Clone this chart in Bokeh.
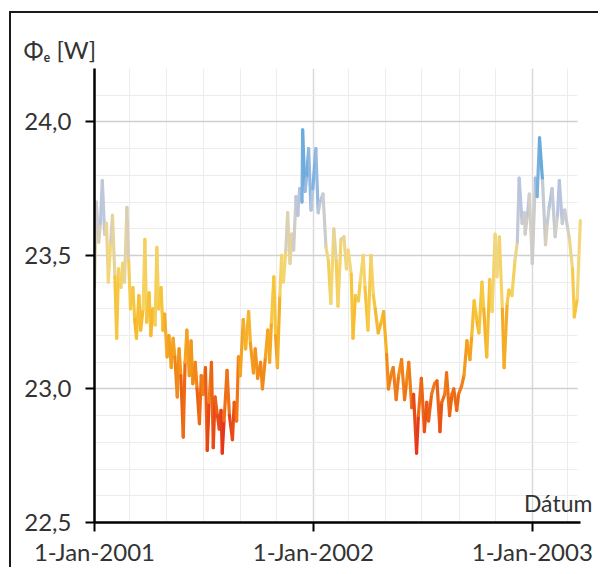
import numpy as np
import pandas as pd
from bokeh.plotting import figure
from bokeh.models import (FixedTicker, CustomJSTickFormatter, ColumnDataSource,
                          LinearColorMapper, Label, Range1d)
from bokeh.embed import file_html
from bokeh.resources import INLINE

# ---- data (days since 1-Jan-2001, Phi_e in W) ----
day = [0, 3, 7, 10, 13, 17, 20, 23, 27, 30, 34, 37, 40, 44, 47, 50, 54, 57, 60, 64,
       67, 70, 74, 77, 81, 84, 87, 91, 94, 97, 101, 104, 107, 111, 114, 117, 121, 124, 128, 131,
       134, 138, 141, 144, 148, 151, 154, 158, 161, 164, 168, 171, 175, 178, 181, 185, 188, 191, 195, 198,
       201, 205, 208, 211, 213, 216, 221, 225, 230, 233, 237, 240, 243, 248, 252, 257, 260, 265, 268, 272,
       277, 280, 285, 289, 292, 295, 299, 302, 305, 309, 312, 315, 319, 322, 326, 329, 332, 336, 339, 342,
       346, 347, 351, 354, 357, 361, 364, 369, 373, 376, 381, 386, 390, 394, 399, 403, 406, 411, 416, 420,
       423, 428, 431, 435, 440, 443, 448, 451, 456, 461, 465, 468, 473, 478, 482, 487, 490, 495, 498, 503,
       507, 512, 517, 520, 524, 529, 532, 537, 540, 545, 550, 554, 557, 562, 567, 571, 576, 579, 584, 587,
       592, 596, 599, 604, 607, 612, 616, 621, 626, 629, 633, 638, 641, 646, 649, 654, 659, 663, 668, 671,
       675, 680, 683, 688, 691, 696, 701, 705, 708, 713, 717, 718, 722, 725, 730, 735, 738, 742, 747, 752,
       755, 758, 763, 768, 772, 775, 780, 784, 789, 792, 797, 800, 805, 810]
phi = [23.38, 23.70, 23.55, 23.62, 23.78, 23.58, 23.62, 23.40, 23.55, 23.65, 23.42, 23.19, 23.45, 23.38, 23.47, 23.40, 23.68, 23.48, 23.30, 23.38,
       23.26, 23.19, 23.35, 23.22, 23.30, 23.56, 23.25, 23.36, 23.20, 23.30, 23.24, 23.53, 23.30, 23.38, 23.22, 23.28, 23.12, 23.20, 23.08, 23.19,
       23.12, 22.97, 23.15, 23.05, 22.82, 23.10, 23.22, 23.05, 23.18, 23.02, 23.10, 23.00, 22.87, 23.05, 22.98, 23.08, 22.77, 22.95, 23.10, 22.78,
       22.97, 22.90, 22.85, 22.92, 22.76, 22.88, 23.07, 22.90, 22.81, 22.95, 22.88, 23.12, 23.05, 23.26, 23.15, 23.29, 23.17, 23.06, 23.15, 23.04,
       23.10, 23.00, 23.12, 23.22, 23.10, 23.25, 23.42, 23.20, 23.08, 23.35, 23.50, 23.40, 23.52, 23.66, 23.47, 23.58, 23.52, 23.72, 23.65, 23.75,
       23.70, 23.97, 23.74, 23.80, 23.90, 23.67, 23.75, 23.90, 23.66, 23.70, 23.73, 23.53, 23.48, 23.32, 23.60, 23.48, 23.31, 23.56, 23.57, 23.45,
       23.52, 23.43, 23.19, 23.35, 23.33, 23.40, 23.50, 23.38, 23.22, 23.50, 23.35, 23.30, 23.21, 23.25, 23.29, 23.13, 23.00, 23.06, 23.08, 22.96,
       23.05, 23.11, 22.96, 23.02, 23.10, 22.93, 22.98, 22.76, 22.90, 23.04, 22.84, 22.95, 22.88, 22.98, 23.02, 23.03, 22.84, 22.95, 22.98, 23.06,
       22.90, 22.98, 23.00, 22.92, 22.98, 23.01, 23.05, 23.18, 23.11, 23.20, 23.33, 23.25, 23.21, 23.40, 23.30, 23.12, 23.41, 23.29, 23.58, 23.42,
       23.57, 23.30, 23.08, 23.32, 23.37, 23.35, 23.48, 23.55, 23.79, 23.62, 23.66, 23.58, 23.65, 23.73, 23.47, 23.79, 23.72, 23.94, 23.78, 23.54,
       23.62, 23.68, 23.75, 23.57, 23.65, 23.78, 23.62, 23.67, 23.60, 23.56, 23.45, 23.27, 23.34, 23.63]

y_ticks = [22.5, 23.0, 23.5, 24.0]
x_tick_dates = ["2001-01-01", "2002-01-01", "2003-01-01"]

start = pd.Timestamp("2001-01-01")
dates = start + pd.to_timedelta(day, unit="D")
y = np.array(phi)

src = ColumnDataSource(dict(
    x0=dates[:-1], x1=dates[1:], y0=y[:-1], y1=y[1:],
    ym=(y[:-1] + y[1:]) / 2.0,
))

def ms(ts):
    return pd.Timestamp(ts).value // 10**6

def day_ms(d):
    return (start + pd.Timedelta(days=d)).value // 10**6

# colour scale (red -> orange -> yellow -> grey -> blue)
stops = [(22.78, (226, 40, 28)), (22.95, (238, 104, 20)), (23.12, (244, 156, 28)),
         (23.30, (247, 196, 56)), (23.48, (244, 216, 120)), (23.60, (212, 206, 196)),
         (23.72, (180, 196, 228)), (23.95, (60, 154, 216))]
lo, hi = stops[0][0], stops[-1][0]
pal = []
for v in np.linspace(lo, hi, 256):
    for (a, ca), (b, cb) in zip(stops[:-1], stops[1:]):
        if a <= v <= b:
            t = (v - a) / (b - a)
            c = [int(round(ca[i] + t * (cb[i] - ca[i]))) for i in range(3)]
            pal.append("#%02x%02x%02x" % tuple(c))
            break
mapper = LinearColorMapper(palette=pal, low=lo, high=hi)

x_start = day_ms(0)
x_end = day_ms(837)
axis_end = day_ms(810)

p = figure(width=589, height=556, x_axis_type="datetime",
           x_range=Range1d(x_start, x_end), y_range=Range1d(22.5, 24.2),
           output_backend="svg", toolbar_location=None,
           min_border_left=83, min_border_right=4, min_border_top=55, min_border_bottom=47)
p.margin = (13, 0, 0, 11)
p.styles = {"box-shadow": "-2px -2px 0 0 #1a1a1a"}
p.outline_line_color = None
p.background_fill_color = "white"
p.border_fill_color = "white"

# title: Phi_e [W]
p.title.text = "Φₑ [W]"
p.title.align = "left"
p.title.offset = -71
p.title.text_font = "Lato"
p.title.text_font_size = "24px"
p.title.text_font_style = "normal"
p.title.text_color = "#333333"

# ticks & grids
minor_x = [ms(d) for d in pd.date_range("2001-01-01", "2003-03-31", freq="2MS") if d.month != 1]
p.xaxis.ticker = FixedTicker(ticks=[ms(d) for d in x_tick_dates], minor_ticks=minor_x)
minor_y = [round(v, 1) for v in np.arange(22.5, 24.21, 0.1)]
p.yaxis.ticker = FixedTicker(ticks=y_ticks, minor_ticks=minor_y)
p.xaxis.bounds = (x_start, axis_end)

p.xaxis.formatter = CustomJSTickFormatter(code="""
const d = new Date(tick);
const m = ["Jan","Feb","Mar","Apr","May","Jun","Jul","Aug","Sep","Oct","Nov","Dec"][d.getUTCMonth()];
return d.getUTCDate() + "-" + m + "-" + d.getUTCFullYear();
""")
p.yaxis.formatter = CustomJSTickFormatter(code="return tick.toFixed(1).replace('.', ',');")

for ax in (p.xaxis, p.yaxis):
    ax.axis_line_color = "black"
    ax.axis_line_width = 2.5
    ax.major_tick_line_color = "black"
    ax.major_tick_line_width = 2
    ax.major_tick_out = 9
    ax.major_tick_in = 0
    ax.minor_tick_line_color = None
    ax.major_label_text_font = "Lato"
    ax.major_label_text_font_size = "24px"
    ax.major_label_text_color = "#333333"
p.xaxis.major_label_standoff = 5
p.yaxis.major_label_standoff = 14

p.xgrid.grid_line_color = "#d9d9d9"
p.xgrid.grid_line_width = 1.5
p.xgrid.minor_grid_line_color = "#ececec"
p.xgrid.minor_grid_line_width = 1
p.ygrid.grid_line_color = "#cfcfcf"
p.ygrid.grid_line_width = 1.5
p.ygrid.minor_grid_line_color = "#ececec"
p.ygrid.minor_grid_line_width = 1
p.ygrid.cross_bounds = (x_start, day_ms(806))

p.segment(x0="x0", y0="y0", x1="x1", y1="y1", source=src,
          line_color={"field": "ym", "transform": mapper},
          line_width=3.2, line_cap="round")

p.add_layout(Label(x=day_ms(716), y=22.572, text="Dátum", text_font="Lato",
                   text_font_size="23px", text_color="#333333",
                   text_baseline="alphabetic"))

open("out.html", "w").write(file_html(p, INLINE))
